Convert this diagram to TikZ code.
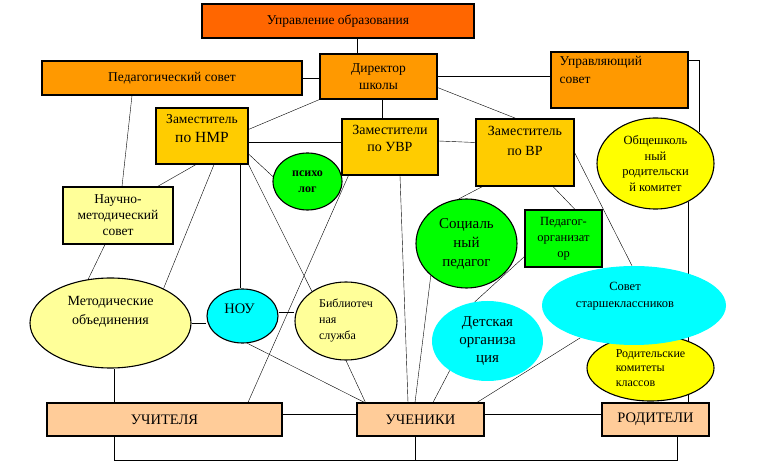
\documentclass[tikz,border=0pt]{standalone}
\usepackage{fontspec}
\setmainfont{Liberation Serif}
\usetikzlibrary{shapes.geometric,calc,backgrounds}

\definecolor{cUpr}{HTML}{FF6600}
\definecolor{cDir}{HTML}{FF9900}
\definecolor{cZam}{HTML}{FFCC00}
\definecolor{cLt}{HTML}{FFFF99}
\definecolor{cYel}{HTML}{FFFF00}
\definecolor{cGrn}{HTML}{00FF00}
\definecolor{cCya}{HTML}{00FFFF}
\definecolor{cPch}{HTML}{FFCC99}

\newcommand{\fsz}[2]{\fontsize{#1}{#2}\selectfont}

\tikzset{
  blk/.style={draw, line width=1.1pt, rectangle, inner sep=1pt, align=center},
  ovl/.style={draw, line width=1.1pt, ellipse, inner sep=0pt, align=center},
  ovlnb/.style={ellipse, inner sep=0pt, align=center},
  lbl/.style={inner sep=0pt, align=center, anchor=center},
}

\begin{document}
\begin{tikzpicture}[x=1pt, y=-1pt]
  \useasboundingbox (0,0) rectangle (761,470);

  % top
  \node[blk, fill=cUpr, minimum width=272, minimum height=34, font=\fsz{13.5}{16}] (upr) at (338,21) {Управление образования};
  \node[blk, fill=cDir, minimum width=117, minimum height=45, font=\fsz{13.5}{17}] (dir) at (378.5,76.5) {Директор\\школы};
  \node[blk, fill=cDir, minimum width=260, minimum height=34, font=\fsz{13.5}{16}] (pedsov) at (172,78) {Педагогический совет};
  \node[blk, fill=cDir, minimum width=137, minimum height=56,
        label={[lbl, anchor=west, align=left, font=\fsz{13.5}{18}, xshift=9, yshift=10]west:{Управляющий\\совет}}] (upsov) at (619.5,80) {};

  % deputies
  \node[blk, fill=cZam, minimum width=92, minimum height=56,
        label={[lbl, font=\fsz{13.5}{19}, yshift=7]center:{Заместитель\\{\fsz{15.5}{19}по НМР}}}] (nmr) at (202,136) {};
  \node[blk, fill=cZam, minimum width=96, minimum height=56,
        label={[lbl, font=\fsz{14}{17}, yshift=8.5]center:{Заместители\\по УВР}}] (uvr) at (390,147) {};
  \node[blk, fill=cZam, minimum width=98, minimum height=67,
        label={[lbl, font=\fsz{14}{20}, yshift=12]center:{Заместитель\\по ВР}}] (vr) at (525,152.5) {};

  \node[ovl, fill=cGrn, minimum width=69, minimum height=57, font=\bfseries\fsz{12}{16}] (psy) at (307.5,181.5) {психо\\лог};
  \node[blk, fill=cLt, minimum width=110, minimum height=57, font=\fsz{13.5}{16}] (nms) at (118,215.5) {Научно-\\методический\\совет};
  \node[ovl, fill=cYel, minimum width=117, minimum height=91, font=\fsz{12.5}{15.5}] (obsh) at (655.5,163.5) {Общешколь\\ный\\родительски\\й комитет};
  \node[ovl, fill=cGrn, minimum width=101, minimum height=89, font=\fsz{15}{19}] (soc) at (466.5,243.5) {Социаль\\ный\\педагог};
  \node[blk, fill=cGrn, minimum width=77, minimum height=57, font=\fsz{12.5}{16}] (porg) at (563.5,238.5) {Педагог-\\организат\\ор};

  % middle row
  \node[ovl, fill=cYel, minimum width=127, minimum height=66, font=\fsz{12}{14.5}, align=left] (rodk) at (650.5,368) {Родительские\\комитеты\\классов};
  \node[ovlnb, fill=cCya, minimum width=184, minimum height=79,
        label={[lbl, font=\fsz{12.5}{17}, xshift=-9, yshift=9]center:{Совет\\старшеклассников}}] (sovst) at (634,305.5) {};
  \node[ovlnb, fill=cCya, minimum width=111, minimum height=80, font=\fsz{15}{18}] (det) at (487.5,341) {Детская\\организа\\ция};
  \node[ovl, fill=cLt, minimum width=161, minimum height=90,
        label={[lbl, font=\fsz{14}{19}, yshift=11]center:{Методические\\объединения}}] (metod) at (110.5,323) {};
  \node[ovl, fill=cCya, minimum width=71, minimum height=54,
        label={[lbl, font=\fsz{14.5}{17}, xshift=-3, yshift=7]center:{НОУ}}] (nou) at (242.5,316) {};
  \node[ovl, fill=cLt, minimum width=102, minimum height=78, font=\fsz{12}{16}, align=left] (bibl) at (346,321) {Библиотеч\\ная\\служба};

  % bottom row
  \foreach \nm/\x/\w/\t in {uchit/164.5/235/УЧИТЕЛЯ, uchen/420.5/127/УЧЕНИКИ, rod/655.5/107/РОДИТЕЛИ}{
    \node[blk, fill=cPch, minimum width=\w, minimum height=33, font=\fsz{14.5}{17}] (\nm) at (\x,419.5) {\t};
  }

  \begin{scope}[on background layer, line width=0.9pt]
    \draw ($(upr.south)+(19,0)$) -- ($(dir.north)+(-21.5,0)$);
    \draw (pedsov.east) -- (pedsov.east -| dir.west);
    \draw (dir.east) -- (dir.east -| upsov.west);
    \draw (dir.south west) -- ($(nmr.north east)+(0,22)$);
    \draw ($(dir.south)+(4,0)$) -- ($(uvr.north)+(-7.5,0)$);
    \draw ($(dir.south east)+(0,-12)$) -- ($(vr.north)+(-9,0)$);
    \draw ($(nmr.east)+(0,6)$) -- ($(uvr.west)+(0,-5)$);
    \draw ($(uvr.east)+(0,-6)$) -- ($(vr.west)+(0,-10)$);
    \draw ($(pedsov.south)+(-40,0)$) -- ($(nms.north)+(4,0)$);
    \draw ($(nmr.south)+(-6,0)$) -- ($(nms.north east)+(-16,0)$);
    \draw ($(nmr.south)+(12,0)$) -- (metod.33);
    \draw ($(nmr.south)+(38,0)$) -- ($(nou.north)+(-2.5,0)$);
    \draw ($(nmr.east)+(0,18)$) -- (psy.172);
    \draw (nmr.south east) -- (bibl.139);
    \draw ($(uvr.south west)+(7,0)$) -- ($(uchit.north)+(83.5,0)$);
    \draw ($(uvr.south)+(10,0)$) -- ($(uchen.north)+(-12.5,0)$);
    \draw (soc.222) -- ($(uchen.north)+(-5.5,0)$);
    \draw ($(vr.south west)+(7,0)$) -- (soc.100);
    \draw ($(vr.south)+(28,0)$) -- ($(porg.north)+(11.5,0)$);
    \draw (vr.east) -- ($(sovst.north)+(-2,0)$);
    \draw ($(porg.south west)+(0,-11)$) -- (det.108);
    \draw (det.218) -- ($(uchen.north)+(12.5,0)$);
    \draw (sovst.211) -- ($(uchen.north)+(56.5,0)$);
    \draw (nou.-80) -- ($(uchen.north west)+(8,0)$);
    \draw (bibl.south) -- ($(uchen.north west)+(9,0)$);
    \draw (metod.117) -- ($(nms.south)+(-13,0)$);
    \draw (metod.east) -- (metod.east -| nou.west);
    \draw ($(nou.east)+(0,-4)$) -- ($(bibl.west)+(0,-9)$);
    \draw ($(metod.south)+(3.5,0)$) -- ($(uchit.north)+(-50.5,0)$);
    \draw ($(uchit.east)+(0,-5.5)$) -- ($(uchen.west)+(0,-5.5)$);
    \draw ($(uchen.east)+(0,-5.5)$) -- ($(rod.west)+(0,-5.5)$);
    % bus under the bottom row
    \draw ($(uchit.south)+(-50.5,0)$) -- ++(0,24) -| ($(rod.south)+(21.5,0)$);
    \draw ($(uchen.south)+(-5.5,0)$) -- ++(0,24);
    % right side
    \draw ($(upsov.north east)+(0,9)$) -| (obsh.36);
    \draw (obsh.-49) -- (obsh.-49 |- rod.north);
  \end{scope}
\end{tikzpicture}
\end{document}
